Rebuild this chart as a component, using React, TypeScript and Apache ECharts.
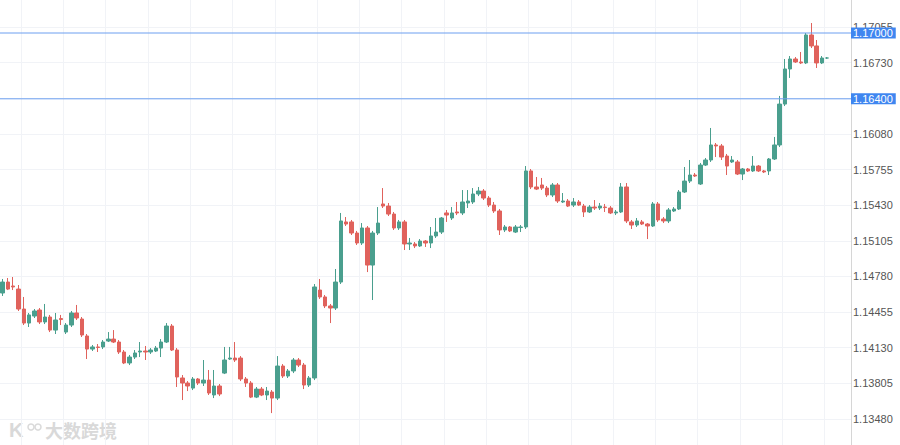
import React, { useEffect, useRef } from 'react';
import * as echarts from 'echarts';

// [open, close, low, high]
const ohlc: [number, number, number, number][] = [
  [1.14629, 1.14729, 1.14602, 1.14757],
  [1.14729, 1.14665, 1.14656, 1.14766],
  [1.14693, 1.14684, 1.14656, 1.14775],
  [1.14665, 1.14483, 1.14465, 1.14702],
  [1.14483, 1.14355, 1.14337, 1.14593],
  [1.14355, 1.14429, 1.14319, 1.14447],
  [1.14419, 1.14465, 1.14401, 1.14483],
  [1.14474, 1.14365, 1.14346, 1.14492],
  [1.14365, 1.1441, 1.14346, 1.14529],
  [1.1441, 1.14291, 1.14273, 1.14429],
  [1.14291, 1.14383, 1.14255, 1.14447],
  [1.14396, 1.14387, 1.14337, 1.14429],
  [1.14273, 1.14337, 1.14255, 1.14355],
  [1.14337, 1.14447, 1.14319, 1.14465],
  [1.14447, 1.14401, 1.14383, 1.1452],
  [1.14392, 1.14246, 1.14228, 1.1441],
  [1.14237, 1.14118, 1.14027, 1.14255],
  [1.14118, 1.14137, 1.141, 1.14155],
  [1.14137, 1.14132, 1.14091, 1.14164],
  [1.14137, 1.14182, 1.14118, 1.142],
  [1.14191, 1.14209, 1.14182, 1.14273],
  [1.14209, 1.14182, 1.14173, 1.14291],
  [1.14182, 1.14091, 1.14073, 1.142],
  [1.14091, 1.13991, 1.13981, 1.14109],
  [1.13991, 1.14045, 1.13972, 1.14064],
  [1.14045, 1.14082, 1.14027, 1.14109],
  [1.14091, 1.141, 1.14045, 1.14182],
  [1.141, 1.14091, 1.14018, 1.14146],
  [1.14091, 1.14109, 1.14073, 1.14127],
  [1.141, 1.14127, 1.14091, 1.14146],
  [1.14127, 1.14182, 1.14045, 1.14209],
  [1.14182, 1.14328, 1.14173, 1.14355],
  [1.14328, 1.14109, 1.141, 1.14346],
  [1.14109, 1.13863, 1.13772, 1.14127],
  [1.13854, 1.13808, 1.13653, 1.13881],
  [1.13808, 1.13781, 1.13735, 1.13826],
  [1.13762, 1.13845, 1.13744, 1.13863],
  [1.13845, 1.13808, 1.1379, 1.13854],
  [1.13808, 1.13835, 1.13781, 1.14018],
  [1.13835, 1.13717, 1.13699, 1.13927],
  [1.13699, 1.13781, 1.13671, 1.13927],
  [1.13781, 1.13708, 1.13689, 1.13799],
  [1.13899, 1.14018, 1.1389, 1.14137],
  [1.14027, 1.14036, 1.14018, 1.14137],
  [1.14036, 1.14018, 1.14, 1.14182],
  [1.14036, 1.13845, 1.13826, 1.14054],
  [1.13845, 1.13808, 1.13772, 1.13863],
  [1.13808, 1.1368, 1.13671, 1.13826],
  [1.1368, 1.13753, 1.13671, 1.13772],
  [1.13753, 1.13699, 1.13689, 1.13772],
  [1.13699, 1.13735, 1.13653, 1.13772],
  [1.13726, 1.13671, 1.13534, 1.13744],
  [1.13671, 1.13963, 1.13653, 1.14054],
  [1.13963, 1.13872, 1.13854, 1.13981],
  [1.13872, 1.13918, 1.13854, 1.13936],
  [1.13918, 1.14018, 1.13899, 1.14036],
  [1.14018, 1.13972, 1.13954, 1.14036],
  [1.13972, 1.1379, 1.13753, 1.13991],
  [1.1379, 1.13854, 1.13772, 1.13872],
  [1.13854, 1.14684, 1.13835, 1.14711],
  [1.14656, 1.14593, 1.14575, 1.14757],
  [1.14593, 1.14511, 1.14492, 1.14611],
  [1.14511, 1.14492, 1.14355, 1.14529],
  [1.14492, 1.14729, 1.14474, 1.14848],
  [1.14729, 1.15286, 1.14711, 1.15359],
  [1.15277, 1.15258, 1.1524, 1.15322],
  [1.15277, 1.15176, 1.15158, 1.15295],
  [1.15176, 1.15085, 1.15067, 1.15195],
  [1.15085, 1.15222, 1.15067, 1.15267],
  [1.15222, 1.14884, 1.1482, 1.1524],
  [1.14884, 1.15176, 1.14565, 1.15195],
  [1.15176, 1.15267, 1.15158, 1.15413],
  [1.15441, 1.15422, 1.15404, 1.15586],
  [1.15422, 1.15349, 1.15331, 1.1545],
  [1.15349, 1.15222, 1.15204, 1.15368],
  [1.15222, 1.15277, 1.15204, 1.15295],
  [1.15277, 1.15076, 1.15021, 1.15295],
  [1.15076, 1.15085, 1.15021, 1.15131],
  [1.15076, 1.15058, 1.15039, 1.15094],
  [1.15058, 1.15103, 1.15049, 1.15121],
  [1.15103, 1.15085, 1.15049, 1.15112],
  [1.15085, 1.15149, 1.15039, 1.15231],
  [1.15149, 1.15185, 1.15131, 1.15313],
  [1.15185, 1.15313, 1.15167, 1.15322],
  [1.15359, 1.1534, 1.15277, 1.15386],
  [1.15313, 1.15359, 1.15295, 1.15413],
  [1.15368, 1.15359, 1.1534, 1.15459],
  [1.15359, 1.15459, 1.1534, 1.15568],
  [1.1545, 1.15468, 1.15404, 1.15568],
  [1.15459, 1.15532, 1.15441, 1.15586],
  [1.15532, 1.15559, 1.15513, 1.15596],
  [1.15559, 1.15495, 1.15477, 1.15577],
  [1.15495, 1.15431, 1.15413, 1.15513],
  [1.15431, 1.15377, 1.15359, 1.15459],
  [1.15377, 1.15204, 1.15158, 1.15395],
  [1.15204, 1.15231, 1.15185, 1.15249],
  [1.15231, 1.15195, 1.15185, 1.1524],
  [1.15185, 1.15231, 1.15176, 1.15249],
  [1.15226, 1.15231, 1.15185, 1.15249],
  [1.15231, 1.15742, 1.15213, 1.15787],
  [1.15742, 1.15596, 1.15577, 1.1576],
  [1.15596, 1.15577, 1.15568, 1.15687],
  [1.15614, 1.15586, 1.15568, 1.15678],
  [1.15586, 1.15523, 1.15504, 1.15605],
  [1.15523, 1.15614, 1.15504, 1.15632],
  [1.15614, 1.15468, 1.1545, 1.15632],
  [1.15459, 1.15468, 1.1545, 1.15541],
  [1.15468, 1.15422, 1.15413, 1.15486],
  [1.15431, 1.15459, 1.15413, 1.15495],
  [1.15459, 1.15431, 1.15422, 1.15477],
  [1.15422, 1.15368, 1.15322, 1.15441],
  [1.15368, 1.15413, 1.15359, 1.15431],
  [1.15413, 1.15404, 1.15386, 1.15477],
  [1.15404, 1.15422, 1.15386, 1.1545],
  [1.15413, 1.15408, 1.15368, 1.15441],
  [1.15404, 1.15359, 1.15349, 1.15422],
  [1.15359, 1.15368, 1.1534, 1.15386],
  [1.15368, 1.15596, 1.15359, 1.15632],
  [1.15596, 1.15286, 1.15267, 1.15632],
  [1.15277, 1.15249, 1.15213, 1.15295],
  [1.15249, 1.15286, 1.15231, 1.15313],
  [1.15277, 1.15258, 1.15249, 1.15295],
  [1.15258, 1.1524, 1.15121, 1.15267],
  [1.1524, 1.15441, 1.15231, 1.15459],
  [1.15441, 1.15295, 1.15277, 1.15459],
  [1.15304, 1.15286, 1.15267, 1.15322],
  [1.15286, 1.15386, 1.15267, 1.15404],
  [1.15377, 1.15395, 1.15368, 1.15413],
  [1.15395, 1.1555, 1.15386, 1.15568],
  [1.1555, 1.1565, 1.15541, 1.15778],
  [1.1565, 1.15705, 1.15632, 1.15842],
  [1.15705, 1.15696, 1.15687, 1.15723],
  [1.15623, 1.15796, 1.15614, 1.15815],
  [1.15796, 1.15842, 1.15787, 1.1586],
  [1.15842, 1.15979, 1.15824, 1.16134],
  [1.15979, 1.1597, 1.15869, 1.15997],
  [1.1597, 1.15869, 1.15842, 1.15988],
  [1.15878, 1.15787, 1.15705, 1.15897],
  [1.15824, 1.15842, 1.15815, 1.15878],
  [1.15824, 1.15714, 1.15705, 1.15842],
  [1.15714, 1.1576, 1.15659, 1.15769],
  [1.1576, 1.15742, 1.15733, 1.15769],
  [1.15742, 1.15787, 1.15733, 1.15878],
  [1.15787, 1.15742, 1.15733, 1.15796],
  [1.15742, 1.15733, 1.15723, 1.15751],
  [1.15742, 1.15851, 1.15705, 1.1586],
  [1.15851, 1.15979, 1.15842, 1.16052],
  [1.15979, 1.16352, 1.1596, 1.16426],
  [1.16352, 1.16672, 1.16334, 1.16763],
  [1.16672, 1.16763, 1.1659, 1.1679],
  [1.16763, 1.16736, 1.16727, 1.16781],
  [1.16736, 1.16727, 1.16717, 1.16827],
  [1.16727, 1.16982, 1.16717, 1.17],
  [1.16982, 1.16882, 1.16863, 1.17091],
  [1.16882, 1.16727, 1.16681, 1.16936],
  [1.16727, 1.16772, 1.16717, 1.1679],
  [1.16772, 1.16772, 1.16763, 1.16781],
];

const priceLevels = [1.17, 1.164];
// grid positions (every tick); 1.16405 sits under the 1.16400 level tag
const yTicks = [
  1.1348, 1.13805, 1.1413, 1.14455, 1.1478, 1.15105, 1.1543, 1.15755, 1.1608, 1.16405, 1.1673, 1.17055,
];
const yLabelTicks = [
  1.1348, 1.13805, 1.1413, 1.14455, 1.1478, 1.15105, 1.1543, 1.15755, 1.1608, 1.1673, 1.17055,
];
const yMin = 1.13243;
const yMax = 1.17301;
const emptySlots = 4;

const upColor = '#4a9f8e';
const downColor = '#e0625c';
const gridColor = '#f1f3f7';
const levelColor = '#6c9ff0';
const levelLabelBg = '#3f86f0';
const watermark = '#d9d9d9';
const labelFont = '"Liberation Sans", Arial, sans-serif';

export default function App() {
  const ref = useRef<HTMLDivElement>(null);

  useEffect(() => {
    if (!ref.current) return;
    const chart = echarts.init(ref.current, null, { renderer: 'svg' });
    const total = ohlc.length + emptySlots;
    const categories = Array.from({ length: total }, (_, i) => String(i + 1));

    const levelSeries = priceLevels.map((v) => ({
      type: 'line',
      xAxisIndex: 1,
      yAxisIndex: 0,
      data: [
        [0, v],
        [1, v],
      ],
      symbol: 'none',
      silent: true,
      z: 5,
      lineStyle: { color: levelColor, width: 1, type: 'solid' },
      itemStyle: { color: levelColor },
      emphasis: { disabled: true },
      endLabel: {
        show: true,
        distance: 0,
        formatter: () => v.toFixed(5),
        color: '#ffffff',
        backgroundColor: levelLabelBg,
        fontSize: 11,
        fontFamily: labelFont,
        lineHeight: 11,
        padding: [0, 3, 0, 2],
      },
    }));

    chart.setOption({
      animation: false,
      backgroundColor: '#ffffff',
      grid: { left: -4, right: 49, top: 0, bottom: 0 },
      xAxis: [
        {
          type: 'category',
          data: categories,
          boundaryGap: true,
          axisLine: { show: false },
          axisTick: { show: false },
          axisLabel: { show: false },
          splitLine: {
            show: true,
            interval: (i: number) => i % 8 === 4,
            lineStyle: { color: gridColor, width: 1 },
          },
        },
        {
          type: 'value',
          min: 0,
          max: 1,
          show: false,
          splitLine: { show: false },
        },
      ],
      yAxis: {
        type: 'value',
        position: 'right',
        min: yMin,
        max: yMax,
        axisLine: { show: true, onZero: false, lineStyle: { color: '#d6d6d6', width: 1 } },
        axisTick: { show: false, customValues: yTicks },
        axisLabel: {
          customValues: yLabelTicks,
          formatter: (v: number) => v.toFixed(5),
          color: '#555555',
          fontSize: 11,
          fontFamily: labelFont,
          margin: 2,
          showMinLabel: true,
          showMaxLabel: true,
        },
        splitLine: { show: true, lineStyle: { color: gridColor, width: 1 } },
      },
      series: [
        {
          type: 'candlestick',
          data: ohlc,
          barWidth: '72%',
          itemStyle: {
            color: upColor,
            color0: downColor,
            borderColor: upColor,
            borderColor0: downColor,
            borderWidth: 1,
          },
        },
        ...levelSeries,
      ],
      graphic: [
        {
          type: 'text',
          left: 9,
          top: 420,
          style: {
            text: 'K',
            fontSize: 20,
            fontWeight: 'bold',
            fill: watermark,
            fontFamily: labelFont,
          },
        },
        {
          type: 'circle',
          shape: { cx: 31, cy: 427, r: 3 },
          style: { fill: 'none', stroke: watermark, lineWidth: 1.5 },
        },
        {
          type: 'circle',
          shape: { cx: 38, cy: 427, r: 3 },
          style: { fill: 'none', stroke: watermark, lineWidth: 1.5 },
        },
        {
          type: 'text',
          left: 45,
          top: 421,
          style: {
            text: '大数跨境',
            fontSize: 18,
            fontWeight: 'bold',
            fill: watermark,
            fontFamily: '"Noto Sans CJK SC", sans-serif',
          },
        },
      ],
    });

    return () => chart.dispose();
  }, []);

  return (
    <div
      ref={ref}
      style={{ position: 'fixed', left: 0, top: 0, width: 900, height: 445 }}
    />
  );
}
